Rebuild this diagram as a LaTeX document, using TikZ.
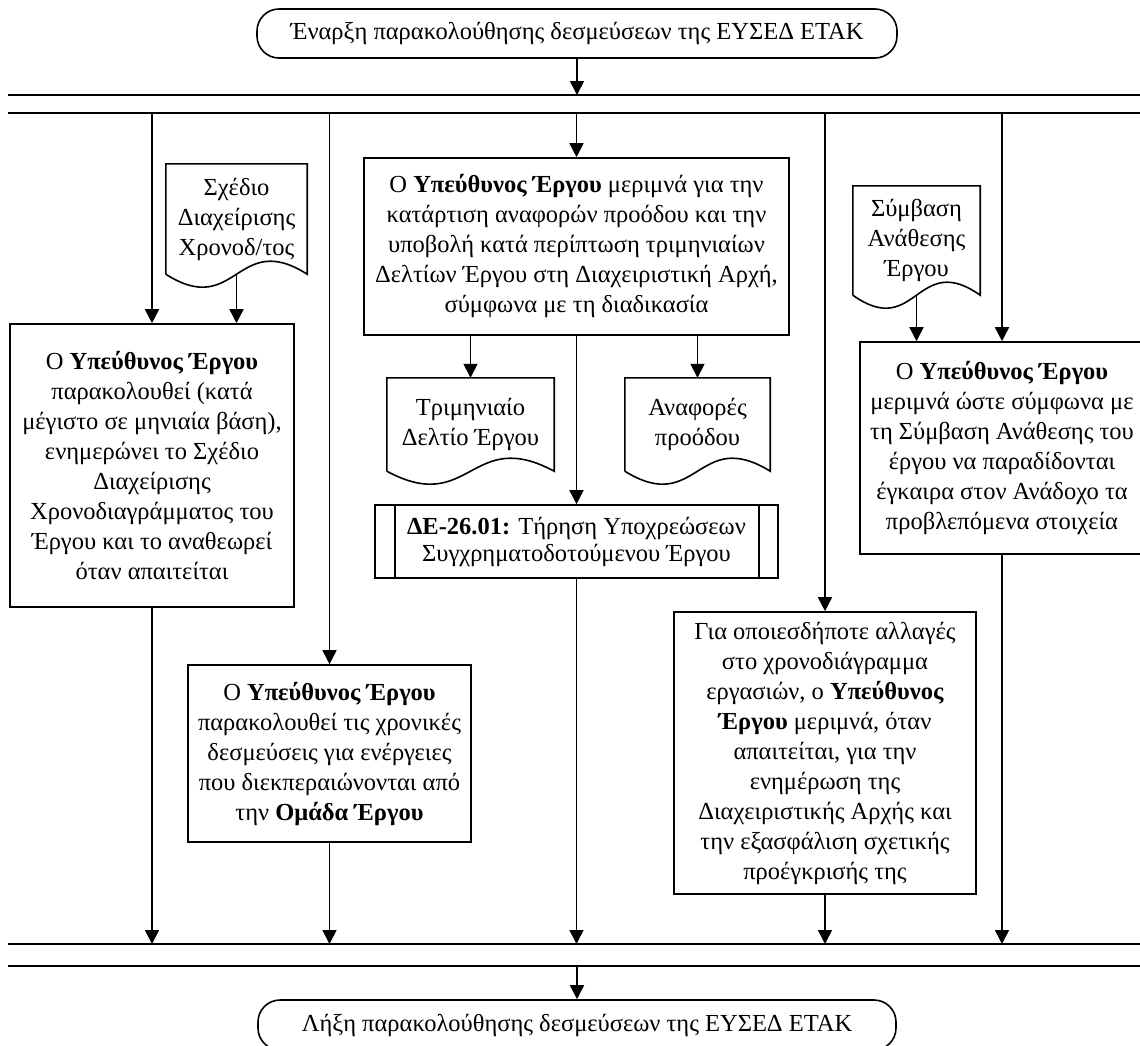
\documentclass[tikz,border=0pt]{standalone}
\usepackage{fontspec}
\setmainfont{Liberation Serif}
\usetikzlibrary{arrows.meta,calc}
% outline of a document symbol drawn around an existing node
\newcommand\docoutline[1]{%
  \draw[line width=1.6pt] (#1.south west) -- (#1.north west) -- (#1.north east) -- (#1.south east)
    .. controls ($(#1.south)+(0,-45)$) and ($(#1.south)+(0,45)$) .. (#1.south west);}
\begin{document}
\begin{tikzpicture}[x=1pt,y=-1pt,
  every node/.style={inner sep=2pt, font=\fontsize{24.5pt}{30pt}\selectfont},
  proc/.style={draw, line width=1.6pt, rectangle, align=center},
  term/.style={draw, line width=1.6pt, rounded corners=22pt, align=center},
  docnode/.style={inner sep=0pt},
  flow/.style={line width=1.6pt, -{Triangle[length=14pt,width=14pt]}},
  bar/.style={line width=1.8pt}
]
\useasboundingbox (0,0) rectangle (1140,1045);
\clip (0,0) rectangle (1140,1045);

% start and end
\node[term, minimum width=640pt, minimum height=49pt] (start) at (577,33.5)
  {Έναρξη παρακολούθησης δεσμεύσεων της ΕΥΣΕΔ ΕΤΑΚ};
\node[term, minimum width=638pt, minimum height=50pt] (finish) at (577,1025)
  {Λήξη παρακολούθησης δεσμεύσεων της ΕΥΣΕΔ ΕΤΑΚ};

% parallel bars
\coordinate (b1L) at (8,95);   \coordinate (b1R) at (1140,95);
\coordinate (b2L) at (8,113);  \coordinate (b2R) at (1140,113);
\coordinate (b3L) at (8,944);  \coordinate (b3R) at (1140,944);
\coordinate (b4L) at (8,966);  \coordinate (b4R) at (1140,966);
\draw[bar] (b1L) -- (b1R);
\draw[bar] (b2L) -- (b2R);
\draw[bar] (b3L) -- (b3R);
\draw[bar] (b4L) -- (b4R);

% process boxes
\node[proc, minimum width=284pt, minimum height=283pt] (B1) at (152,465.5)
  {Ο \textbf{Υπεύθυνος Έργου}\\ παρακολουθεί (κατά\\ μέγιστο σε μηνιαία βάση),\\ ενημερώνει το Σχέδιο\\ Διαχείρισης\\ Χρονοδιαγράμματος του\\ Έργου και το αναθεωρεί\\ όταν απαιτείται};
\node[proc, minimum width=283pt, minimum height=177pt] (B2) at (329.5,753.5)
  {Ο \textbf{Υπεύθυνος Έργου}\\ παρακολουθεί τις χρονικές\\ δεσμεύσεις για ενέργειες\\ που διεκπεραιώνονται από\\ την \textbf{Ομάδα Έργου}};
\node[proc, minimum width=425pt, minimum height=177pt] (C1) at (576.5,246.5)
  {Ο \textbf{Υπεύθυνος Έργου} μεριμνά για την\\ κατάρτιση αναφορών προόδου και την\\ υποβολή κατά περίπτωση τριμηνιαίων\\ Δελτίων Έργου στη Διαχειριστική Αρχή,\\ σύμφωνα με τη διαδικασία};
\node[proc, minimum width=403pt, minimum height=73pt, font=\fontsize{24.5pt}{27pt}\selectfont] (S1) at (576.5,541.5)
  {\textbf{ΔΕ-26.01:} Τήρηση Υποχρεώσεων\\ Συγχρηματοδοτούμενου Έργου};
\draw[line width=1.6pt] ([xshift=21pt]S1.north west) -- ([xshift=21pt]S1.south west);
\draw[line width=1.6pt] ([xshift=-20pt]S1.north east) -- ([xshift=-20pt]S1.south east);
\node[proc, minimum width=302pt, minimum height=282pt] (B4) at (825,753)
  {Για οποιεσδήποτε αλλαγές\\ στο χρονοδιάγραμμα\\ εργασιών, ο \textbf{Υπεύθυνος}\\ \textbf{Έργου} μεριμνά, όταν\\ απαιτείται, για την\\ ενημέρωση της\\ Διαχειριστικής Αρχής και\\ την εξασφάλιση σχετικής\\ προέγκρισής της};
\node[proc, minimum width=284pt, minimum height=212pt] (B5) at (1002,448)
  {Ο \textbf{Υπεύθυνος Έργου}\\ μεριμνά ώστε σύμφωνα με\\ τη Σύμβαση Ανάθεσης του\\ έργου να παραδίδονται\\ έγκαιρα στον Ανάδοχο τα\\ προβλεπόμενα στοιχεία};

% documents
\node[docnode, minimum width=141pt, minimum height=110pt] (D1) at (236.5,219)
  {\raisebox{6pt}{\begin{tabular}{@{}c@{}}Σχέδιο\\Διαχείρισης\\Χρονοδ/τος\end{tabular}}};
\node[docnode, minimum width=167pt, minimum height=93pt] (D2) at (470.5,424.5)
  {\raisebox{6pt}{\begin{tabular}{@{}c@{}}Τριμηνιαίο\\Δελτίο Έργου\end{tabular}}};
\node[docnode, minimum width=145pt, minimum height=93pt] (D3) at (697.5,424.5)
  {\raisebox{6pt}{\begin{tabular}{@{}c@{}}Αναφορές\\προόδου\end{tabular}}};
\node[docnode, minimum width=127pt, minimum height=109pt] (D4) at (916.5,240.5)
  {\raisebox{3pt}{\begin{tabular}{@{}c@{}}Σύμβαση\\Ανάθεσης\\Έργου\end{tabular}}};
\docoutline{D1}
\docoutline{D2}
\docoutline{D3}
\docoutline{D4}

% flow from the start into the bars
\draw[flow] (start.south) -- (start.south |- b1L);
\draw[flow] (B1.north |- b2L) -- (B1.north);
\draw[flow] (B2.north |- b2L) -- (B2.north);
\draw[flow] (C1.north |- b2L) -- (C1.north);
\draw[flow] (B4.north |- b2L) -- (B4.north);
\draw[flow] (B5.north |- b2L) -- (B5.north);

% inputs and outputs
\draw[flow] (D1.south) -- (D1.south |- B1.north);
\draw[flow] (D4.south) -- (D4.south |- B5.north);
\draw[flow] (C1.south -| D2.north) -- (D2.north);
\draw[flow] (C1.south -| D3.north) -- (D3.north);
\draw[flow] (C1.south) -- (S1.north);

% flow into the closing bars
\draw[flow] (B1.south) -- (B1.south |- b3L);
\draw[flow] (B2.south) -- (B2.south |- b3L);
\draw[flow] (S1.south) -- (S1.south |- b3L);
\draw[flow] (B4.south) -- (B4.south |- b3L);
\draw[flow] (B5.south) -- (B5.south |- b3L);
\draw[flow] (finish.north |- b4L) -- (finish.north);
\end{tikzpicture}
\end{document}
